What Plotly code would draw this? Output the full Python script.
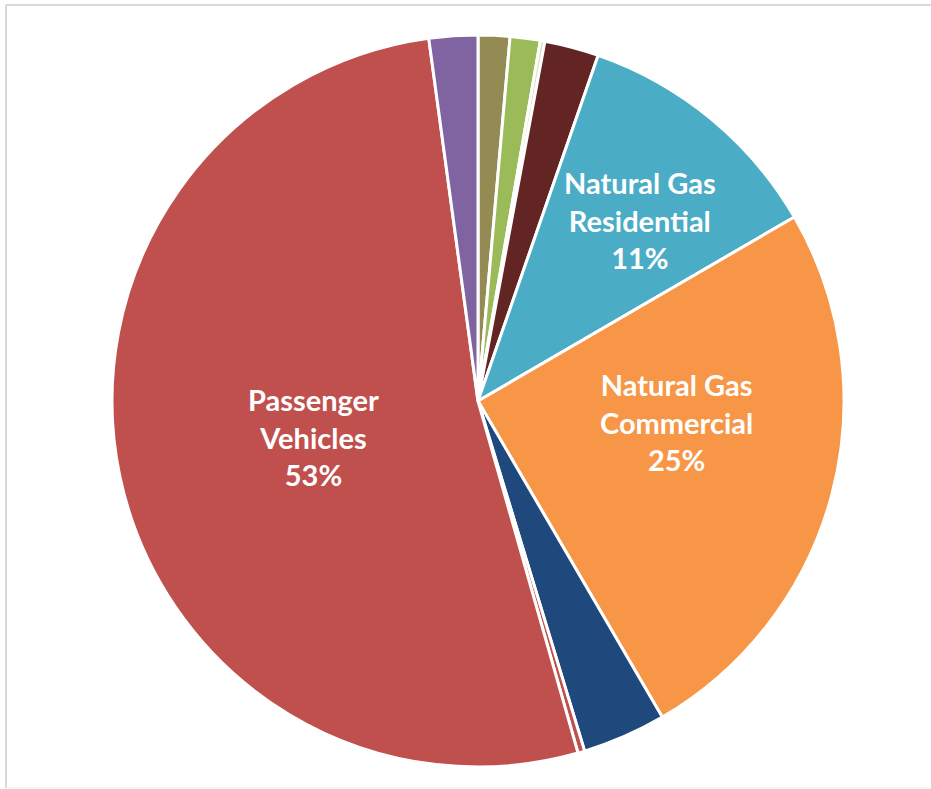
import plotly.graph_objects as go

categories = ["Olive", "Green", "Light Green", "Maroon", "Natural Gas Residential",
              "Natural Gas Commercial", "Blue", "Thin", "Passenger Vehicles", "Purple"]
values = [1.4, 1.33, 0.2, 2.4, 11.3, 25.0, 3.7, 0.3, 52.3, 2.15]
label_names = ["", "", "", "", "Natural Gas<br>Residential",
               "Natural Gas<br>Commercial", "", "", "Passenger<br>Vehicles", ""]
label_pcts = ["", "", "", "", "11%", "25%", "", "", "53%", ""]
colors = ["#948A54", "#9BBB59", "#D7E4BD", "#632523", "#4BACC6",
          "#F79646", "#1F497D", "#C0504D", "#C0504D", "#8064A2"]

W, H = 931, 789
cx, cy, r = 478, 401, 366

fig = go.Figure(go.Pie(
    labels=categories,
    values=values,
    textinfo="none",
    sort=False,
    direction="clockwise",
    rotation=0,
    marker=dict(colors=colors, line=dict(color="white", width=3)),
    hoverinfo="label+percent",
    showlegend=False,
    domain=dict(x=[(cx - r) / W, (cx + r) / W], y=[(H - cy - r) / H, (H - cy + r) / H]),
))

# data label placement (pixel centres of label blocks)
label_pos = {4: (640, 220), 5: (676, 422), 8: (313, 437)}
annotations = []
for i, (px, py) in label_pos.items():
    annotations.append(dict(
        x=px / W, y=1 - py / H, xref="paper", yref="paper",
        text=f"{label_names[i]}<br>{label_pcts[i]}",
        showarrow=False, align="center", xanchor="center", yanchor="middle",
        font=dict(family="Lato", size=29, color="white", weight="bold"),
    ))

fig.update_layout(
    width=W, height=H,
    margin=dict(l=0, r=0, t=0, b=0),
    paper_bgcolor="white",
    annotations=annotations,
    shapes=[
        dict(type="line", xref="paper", yref="paper", x0=6 / W, x1=1.0, y0=1 - 5 / H, y1=1 - 5 / H,
             line=dict(color="#D9D9D9", width=2)),
        dict(type="line", xref="paper", yref="paper", x0=6 / W, x1=6 / W, y0=1 - 5 / H, y1=1 / H,
             line=dict(color="#D9D9D9", width=2)),
        dict(type="line", xref="paper", yref="paper", x0=6 / W, x1=1.0, y0=1 / H, y1=1 / H,
             line=dict(color="#EDEDED", width=1)),
    ],
)

fig.write_html("out.html", config={"displayModeBar": False},
               post_script="document.body.style.margin='0';document.body.style.overflow='hidden';")
